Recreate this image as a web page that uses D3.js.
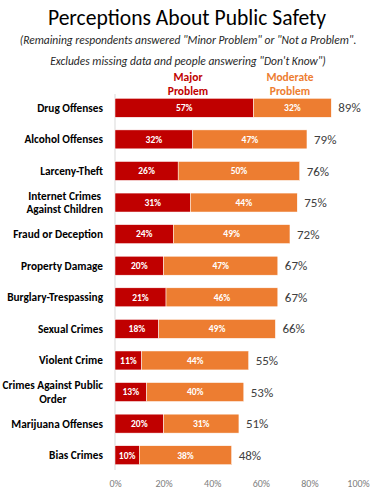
<!DOCTYPE html>
<html>
<head>
<meta charset="utf-8">
<script src="https://cdn.jsdelivr.net/npm/d3@7"></script>
<style>
  body { margin: 0; background: #fff; }
  svg { display: block; font-family: Carlito, Calibri, Lato, sans-serif; }
</style>
</head>
<body>
<svg id="chart" width="375" height="500"></svg>
<script>
const categories = [
  ["Drug Offenses"],
  ["Alcohol Offenses"],
  ["Larceny-Theft"],
  ["Internet Crimes", "Against Children"],
  ["Fraud or Deception"],
  ["Property Damage"],
  ["Burglary-Trespassing"],
  ["Sexual Crimes"],
  ["Violent Crime"],
  ["Crimes Against Public", "Order"],
  ["Marijuana Offenses"],
  ["Bias Crimes"]
];
const majorProblem = [57, 32, 26, 31, 24, 20, 21, 18, 11, 13, 20, 10];
const moderateProblem = [32, 47, 50, 44, 49, 47, 46, 49, 44, 40, 31, 38];
const totals = [89, 79, 76, 75, 72, 67, 67, 66, 55, 53, 51, 48];
const xTicks = [0, 20, 40, 60, 80, 100];

const RED = "#C00000", ORANGE = "#ED7D31";
const svg = d3.select("#chart");

const x = d3.scaleLinear().domain([0, 100]).range([115, 358]);
const y = d3.scaleBand().domain(d3.range(categories.length)).range([92, 471]).paddingInner(0.4).paddingOuter(0.2);

// Title
svg.append("text").attr("x", 187).attr("y", 25).attr("text-anchor", "middle")
  .attr("font-size", 21.6).attr("fill", "#000").text("Perceptions About Public Safety");
const sub = ["(Remaining respondents answered \"Minor Problem\" or \"Not a Problem\".",
             "Excludes missing data and people answering \"Don't Know\")"];
sub.forEach((s, i) => svg.append("text").attr("x", 188).attr("y", 44 + i * 21)
  .attr("text-anchor", "middle").attr("font-size", 11.5).attr("font-style", "italic")
  .attr("fill", "#262626").text(s));

// Legend labels
[["Major", "Problem", RED, 188], ["Moderate", "Problem", ORANGE, 290]].forEach(([a, b, c, cx]) => {
  const t = svg.append("text").attr("x", cx).attr("y", 81).attr("text-anchor", "middle")
    .attr("font-size", 11.5).attr("font-weight", "bold").attr("fill", c);
  t.append("tspan").attr("x", cx).text(a);
  t.append("tspan").attr("x", cx).attr("dy", 14).text(b);
});

// Axis line
svg.append("line").attr("x1", x(0)).attr("x2", x(0)).attr("y1", 94).attr("y2", 470)
  .attr("stroke", "#D9D9D9").attr("stroke-width", 1);

// Bars
const g = svg.append("g");
categories.forEach((cat, i) => {
  const y0 = y(i), h = y.bandwidth(), cy = y0 + h / 2;
  g.append("rect").attr("x", x(0)).attr("y", y0).attr("width", x(majorProblem[i]) - x(0)).attr("height", h)
    .attr("fill", RED).attr("stroke", "#fff").attr("stroke-width", 0.5);
  g.append("rect").attr("x", x(majorProblem[i])).attr("y", y0).attr("width", x(totals[i]) - x(majorProblem[i])).attr("height", h)
    .attr("fill", ORANGE).attr("stroke", "#fff").attr("stroke-width", 0.5);
  g.append("text").attr("x", (x(0) + x(majorProblem[i])) / 2).attr("y", cy).attr("dy", "0.35em")
    .attr("text-anchor", "middle").attr("font-size", 9.5).attr("font-weight", "bold").attr("fill", "#fff")
    .text(majorProblem[i] + "%");
  g.append("text").attr("x", (x(majorProblem[i]) + x(totals[i])) / 2).attr("y", cy).attr("dy", "0.35em")
    .attr("text-anchor", "middle").attr("font-size", 9.5).attr("font-weight", "bold").attr("fill", "#fff")
    .text(moderateProblem[i] + "%");
  g.append("text").attr("x", x(totals[i]) + 7).attr("y", cy).attr("dy", "0.35em")
    .attr("font-size", 13).attr("fill", "#404040").text(totals[i] + "%");

  // category label
  const lab = g.append("text").attr("font-size", 11.3).attr("font-weight", "bold").attr("fill", "#000");
  const n = cat.length;
  cat.forEach((line, j) => {
    lab.append("tspan").attr("y", cy + (j - (n - 1) / 2) * 13.5).attr("dy", "0.35em").text(line);
  });
  let maxW = 0;
  lab.selectAll("tspan").each(function () { maxW = Math.max(maxW, this.getComputedTextLength()); });
  lab.attr("text-anchor", "middle").selectAll("tspan").attr("x", 103 - maxW / 2);
});

// X axis
const xAxis = d3.axisBottom(x).tickValues(xTicks).tickFormat(d => d + "%").tickSize(0);
const ax = svg.append("g").attr("transform", "translate(0,475)").call(xAxis);
ax.select(".domain").remove();
ax.selectAll("text").attr("font-size", 10).attr("fill", "#808080").attr("font-family", "Carlito, Calibri, sans-serif").attr("dy", "0.9em");
</script>
</body>
</html>
